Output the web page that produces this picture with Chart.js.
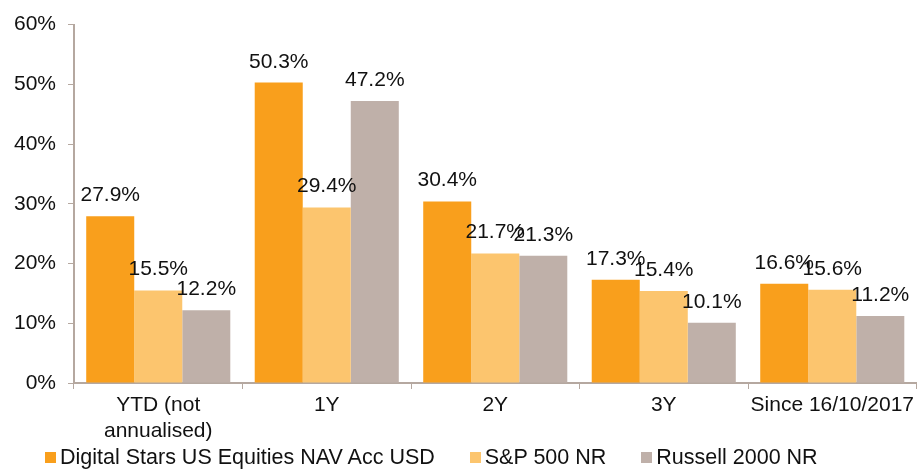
<!DOCTYPE html>
<html>
<head>
<meta charset="utf-8">
<script src="https://cdn.jsdelivr.net/npm/chart.js@4/dist/chart.umd.min.js"></script>
<style>
  html, body { margin: 0; padding: 0; background: #fff; }
  #wrap { width: 918px; height: 470px; position: relative; }
  #legend { position: absolute; left: 45px; top: 445px; display: flex; gap: 35px;
    font: 21.5px "Liberation Sans", Arial, sans-serif; color: #111; line-height: 24px; white-space: nowrap; }
  #legend .it { display: flex; align-items: center; }
  #legend .sw { width: 11px; height: 11px; margin-right: 4px; display: inline-block; }
</style>
</head>
<body>
<div id="wrap"><canvas id="c"></canvas><div id="legend"></div></div>
<script>
// ---- data ----
const categories = [['YTD (not', 'annualised)'], '1Y', '2Y', '3Y', 'Since 16/10/2017'];
const seriesNames = ['Digital Stars US Equities NAV Acc USD', 'S&P 500 NR', 'Russell 2000 NR'];
const digitalStars = [27.9, 50.3, 30.4, 17.3, 16.6];
const sp500 = [15.5, 29.4, 21.7, 15.4, 15.6];
const russell2000 = [12.2, 47.2, 21.3, 10.1, 11.2];
const yTicks = [0, 10, 20, 30, 40, 50, 60];

const COLORS = ['#F99F1C', '#FCC56E', '#BFB0A9'];
const AXIS = '#B5A8A0';
const FONT = '"Liberation Sans", Arial, sans-serif';
const FS = 21;

// draws "xx.x%" above every bar
const barLabels = {
  id: 'barLabels',
  afterDatasetsDraw(chart) {
    const ctx = chart.ctx;
    ctx.save();
    ctx.font = FS + 'px ' + FONT;
    ctx.fillStyle = '#111';
    ctx.textAlign = 'center';
    ctx.textBaseline = 'alphabetic';
    chart.data.datasets.forEach((ds, i) => {
      chart.getDatasetMeta(i).data.forEach((bar, j) => {
        ctx.fillText(ds.data[j].toFixed(1) + '%', bar.x, bar.y - 15);
      });
    });
    ctx.restore();
  }
};

const chart = new Chart(document.getElementById('c'), {
  type: 'bar',
  data: {
    labels: categories,
    datasets: [digitalStars, sp500, russell2000].map((d, i) => ({
      label: seriesNames[i], data: d, backgroundColor: COLORS[i], borderWidth: 0,
      categoryPercentage: 0.855, barPercentage: 1.0
    }))
  },
  options: {
    responsive: true, maintainAspectRatio: false, animation: false,
    layout: { padding: { top: 24, right: 0, left: 0, bottom: 0 } },
    plugins: { legend: { display: false }, tooltip: { enabled: false } },
    scales: {
      x: {
        grid: { drawOnChartArea: false, color: AXIS, tickLength: 6, offset: true },
        border: { color: AXIS, width: 2 },
        ticks: { font: { family: FONT, size: FS, lineHeight: 1.2 }, color: '#111', padding: 4, maxRotation: 0, autoSkip: false },
        afterFit: (s) => { s.height = 87; }   // room for the html legend below
      },
      y: {
        min: 0, max: 60,
        afterBuildTicks: (s) => { s.ticks = yTicks.map(v => ({ value: v })); },
        grid: { drawOnChartArea: false, color: AXIS, tickLength: 6 },
        border: { color: AXIS, width: 2 },
        ticks: { font: { family: FONT, size: FS }, color: '#111', padding: 12, callback: (v) => v + '%' },
        afterFit: (s) => { s.width = 74; }
      }
    }
  },
  plugins: [barLabels]
});

document.getElementById('legend').innerHTML = chart.data.datasets.map(ds =>
  `<span class="it"><span class="sw" style="background:${ds.backgroundColor}"></span>${ds.label}</span>`).join('');
</script>
</body>
</html>
